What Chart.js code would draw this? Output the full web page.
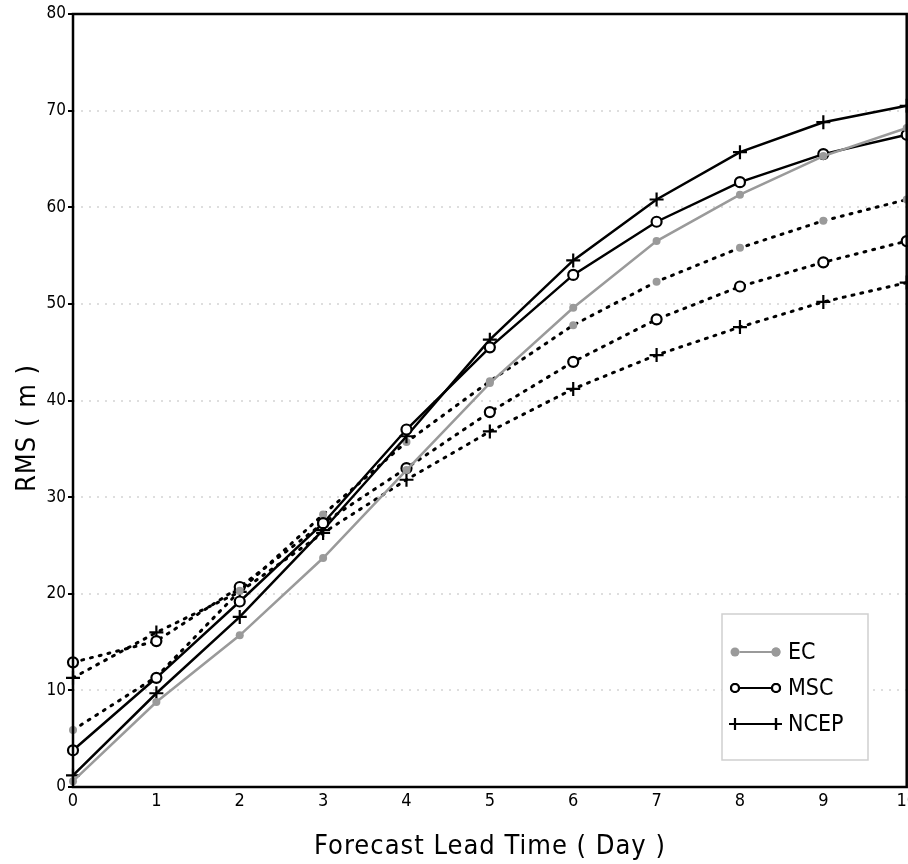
<!DOCTYPE html>
<html>
<head>
<meta charset="utf-8">
<script src="https://cdn.jsdelivr.net/npm/chart.js@4/dist/chart.umd.min.js"></script>
<style>
  html, body { margin: 0; padding: 0; background: #fff; overflow: hidden; }
  #wrap { width: 921px; height: 864px; position: relative; }
</style>
</head>
<body>
<div id="wrap"><canvas id="rmsChart"></canvas></div>
<script>
// lead time in days
const days = [0, 1, 2, 3, 4, 5, 6, 7, 8, 9, 10];
const yTicks = [0, 10, 20, 30, 40, 50, 60, 70, 80];

// solid lines
const ecSolid   = [0.6, 8.8, 15.7, 23.7, 32.8, 41.8, 49.6, 56.5, 61.3, 65.3, 68.2];
const mscSolid  = [3.8, 11.3, 19.2, 27.3, 37.0, 45.5, 53.0, 58.5, 62.6, 65.5, 67.5];
const ncepSolid = [1.2, 9.7, 17.6, 26.6, 36.3, 46.3, 54.5, 60.8, 65.7, 68.8, 70.5];

// dotted lines
const ecDot   = [5.9, 11.4, 20.3, 28.2, 35.7, 42.0, 47.8, 52.3, 55.8, 58.6, 60.8];
const mscDot  = [12.9, 15.1, 20.7, 27.3, 33.0, 38.8, 44.0, 48.4, 51.8, 54.3, 56.5];
const ncepDot = [11.3, 16.0, 20.2, 26.3, 31.8, 36.8, 41.2, 44.7, 47.6, 50.2, 52.2];

const xTitle = 'Forecast Lead Time ( Day )';
const yTitle = 'RMS ( m )';

const FONT = "'DejaVu Sans Condensed', 'DejaVu Sans', sans-serif";
const GREY = '#9a9a9a';
const DOTS = [2, 7];

function series(label, data, kind, dotted) {
    const base = {
        label: label,
        data: data,
        borderColor: (kind === 'ec' && !dotted) ? GREY : '#000',
        borderWidth: dotted ? 3 : 2.5,
        borderDash: dotted ? DOTS : [],
        borderCapStyle: 'round',
        tension: 0,
        fill: false,
        inLegend: !dotted
    };
    if (kind === 'ec') {
        Object.assign(base, { pointStyle: 'circle', pointRadius: 4, pointBackgroundColor: GREY, pointBorderColor: GREY, pointBorderWidth: 0 });
    } else if (kind === 'msc') {
        Object.assign(base, { pointStyle: 'circle', pointRadius: 5, pointBackgroundColor: '#fff', pointBorderColor: '#000', pointBorderWidth: 2.2 });
    } else {
        Object.assign(base, { pointStyle: 'cross', pointRadius: 7, pointBorderColor: '#000', pointBorderWidth: 2.2 });
    }
    return base;
}

// frame around the plot area + axis titles
const framePlugin = {
    id: 'frame',
    afterDraw(chart) {
        const a = chart.chartArea, ctx = chart.ctx;
        ctx.save();
        ctx.strokeStyle = '#000';
        ctx.lineWidth = 2.5;
        ctx.strokeRect(a.left, a.top, a.right - a.left, a.bottom - a.top);

        ctx.fillStyle = '#000';
        ctx.font = '27px ' + FONT;
        ctx.textAlign = 'center';
        ctx.textBaseline = 'middle';
        ctx.letterSpacing = '1px';
        ctx.fillText(xTitle, 490, 847);
        ctx.translate(28, 428);
        ctx.rotate(-Math.PI / 2);
        ctx.fillText(yTitle, 0, 0);
        ctx.restore();
    }
};

// legend box in the lower right of the plot
const legendPlugin = {
    id: 'boxLegend',
    afterDraw(chart) {
        const ctx = chart.ctx;
        const x0 = 722, y0 = 614, w = 146, h = 146;
        ctx.save();
        ctx.fillStyle = '#fff';
        ctx.fillRect(x0, y0, w, h);
        ctx.strokeStyle = '#cfcfcf';
        ctx.lineWidth = 1.5;
        ctx.strokeRect(x0, y0, w, h);
        const items = chart.data.datasets.filter(d => d.inLegend);
        items.forEach((d, i) => {
            const y = y0 + 38 + i * 36;
            const xa = x0 + 13, xb = x0 + 54;
            ctx.beginPath();
            ctx.strokeStyle = d.borderColor;
            ctx.lineWidth = 2;
            ctx.moveTo(xa, y); ctx.lineTo(xb, y);
            ctx.stroke();
            [xa, xb].forEach(px => {
                Chart.helpers.drawPoint(ctx, {
                    pointStyle: d.pointStyle,
                    radius: d.pointStyle === 'cross' ? 6 : (d.label === 'EC' ? 4.5 : 4),
                    borderWidth: d.pointBorderWidth || 0
                }, px, y);
                ctx.fillStyle = d.pointBackgroundColor || '#000';
                ctx.strokeStyle = d.pointBorderColor;
                ctx.lineWidth = d.pointBorderWidth || 0;
                if (d.pointStyle !== 'cross') ctx.fill();
                if (d.pointBorderWidth) ctx.stroke();
            });
            ctx.fillStyle = '#000';
            ctx.font = '23px ' + FONT;
            ctx.textBaseline = 'middle';
            ctx.textAlign = 'left';
            ctx.fillText(d.label, x0 + 66, y + 1);
        });
        ctx.restore();
    }
};

new Chart(document.getElementById('rmsChart').getContext('2d'), {
    type: 'line',
    data: {
        labels: days,
        datasets: [
            series('EC', ecSolid, 'ec', false),
            series('MSC', mscSolid, 'msc', false),
            series('NCEP', ncepSolid, 'ncep', false),
            series('EC dotted', ecDot, 'ec', true),
            series('MSC dotted', mscDot, 'msc', true),
            series('NCEP dotted', ncepDot, 'ncep', true)
        ]
    },
    options: {
        responsive: true,
        maintainAspectRatio: false,
        animation: false,
        layout: { padding: { top: 14, right: 0, left: 0, bottom: 0 } },
        plugins: {
            legend: { display: false },
            tooltip: { enabled: false }
        },
        scales: {
            x: {
                type: 'category',
                offset: false,
                afterFit(s) { s.height = 77; },
                grid: { display: false, drawTicks: false },
                border: { display: false },
                ticks: { color: '#000', font: { family: FONT, size: 18 }, padding: 4, maxRotation: 0 }
            },
            y: {
                min: 0,
                max: 80,
                afterFit(s) { s.width = 73; },
                afterBuildTicks(s) { s.ticks = yTicks.map(v => ({ value: v })); },
                grid: {
                    color: ctx => (ctx.tick && (ctx.tick.value === 0 || ctx.tick.value === 80)) ? 'rgba(0,0,0,0)' : '#dedede',
                    lineWidth: 2,
                    tickColor: '#000',
                    tickLength: 5,
                    drawTicks: true
                },
                border: { display: false, dash: [2, 6] },
                ticks: { color: '#000', font: { family: FONT, size: 17 }, padding: 2 }
            }
        }
    },
    plugins: [framePlugin, legendPlugin]
});
</script>
</body>
</html>
